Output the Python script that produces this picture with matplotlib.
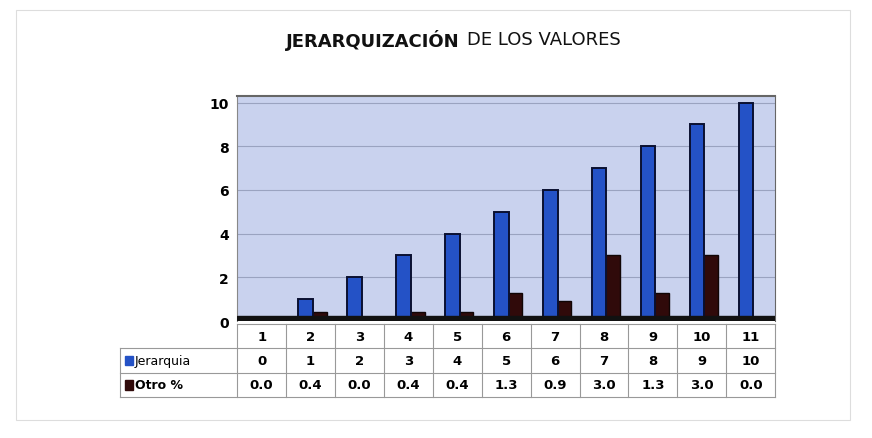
import matplotlib.pyplot as plt
import numpy as np
from matplotlib.patches import Rectangle

categorias = ["1", "2", "3", "4", "5", "6", "7", "8", "9", "10", "11"]
jerarquia = [0, 1, 2, 3, 4, 5, 6, 7, 8, 9, 10]
otro = [0.0, 0.4, 0.0, 0.4, 0.4, 1.3, 0.9, 3.0, 1.3, 3.0, 0.0]
series = ["Jerarquia", "Otro %"]
titulo_1 = "JERARQUIZACIÓN"
titulo_2 = "DE LOS VALORES"

azul = "#2452c6"
oscuro = "#300a0a"

fig = plt.figure(figsize=(8.72, 4.39), dpi=100)
fig.patch.set_facecolor("white")

# marco exterior, apenas visible
fig.add_artist(Rectangle((0.018, 0.04), 0.957, 0.935, transform=fig.transFigure,
                         fill=False, edgecolor="#dddddd", lw=0.8))

ax = fig.add_axes([0.272, 0.2665, 0.617, 0.5125])
x = np.arange(len(categorias))
ax.set_facecolor("#c9d2ee")
ax.bar(x - 0.1, jerarquia, width=0.3, color=azul, edgecolor="#0a1030", lw=1.4, zorder=3)
ax.bar(x + 0.18, otro, width=0.3, color=oscuro, edgecolor="#100505", lw=1.0, zorder=2)
ax.axhspan(0, 0.25, color="#111111", zorder=4)
ax.set_xlim(-0.5, len(categorias) - 0.5)
ax.set_ylim(0, 10.3)
ax.set_yticks([0, 2, 4, 6, 8, 10])
ax.set_xticks([])
ax.grid(axis="y", color="#9aa3c0", lw=0.8, zorder=0)
ax.tick_params(axis="y", length=0, labelsize=10, pad=6)
for lab in ax.get_yticklabels():
    lab.set_fontweight("bold")
for s in ["top", "right"]:
    ax.spines[s].set_color("#666666")
ax.spines["left"].set_color("#888888")
ax.spines["bottom"].set_visible(False)
ax.spines["top"].set_linewidth(1.5)

fig.text(0.527, 0.908, titulo_1, ha="right", va="center", fontsize=13,
         fontweight="bold", color="#111111")
fig.text(0.536, 0.908, titulo_2, ha="left", va="center", fontsize=13, color="#111111")

# tabla de datos
tb = fig.add_axes([0.272, 0.0934, 0.617, 0.1663])
tb.set_xlim(-0.5, len(categorias) - 0.5)
tb.set_ylim(0, 3)
tb.axis("off")
izq = -2.89
der = len(categorias) - 0.5
lc = "#999999"
for yy in [0, 1, 2, 3]:
    x0 = izq if yy < 3 else -0.5
    tb.plot([x0, der], [yy, yy], color=lc, lw=0.8, clip_on=False)
tb.plot([izq, izq], [0, 2], color=lc, lw=0.8, clip_on=False)
for i in range(len(categorias) + 1):
    tb.plot([i - 0.5, i - 0.5], [0, 3], color=lc, lw=0.8, clip_on=False)

for i, c in enumerate(categorias):
    tb.text(i, 2.5, c, ha="center", va="center", fontsize=9.5, fontweight="bold")
    tb.text(i, 1.5, str(jerarquia[i]), ha="center", va="center", fontsize=9.5, fontweight="bold")
    tb.text(i, 0.5, f"{otro[i]:.1f}", ha="center", va="center", fontsize=9.5, fontweight="bold")

for fila, nombre, col in [(1.5, series[0], azul), (0.5, series[1], oscuro)]:
    tb.add_patch(Rectangle((izq + 0.1, fila - 0.2), 0.16, 0.4, color=col, clip_on=False))
    tb.text(izq + 0.3, fila, nombre, ha="left", va="center", fontsize=9,
            fontweight="bold" if nombre == "Otro %" else "normal", clip_on=False)

plt.savefig("out.png", dpi=100)
